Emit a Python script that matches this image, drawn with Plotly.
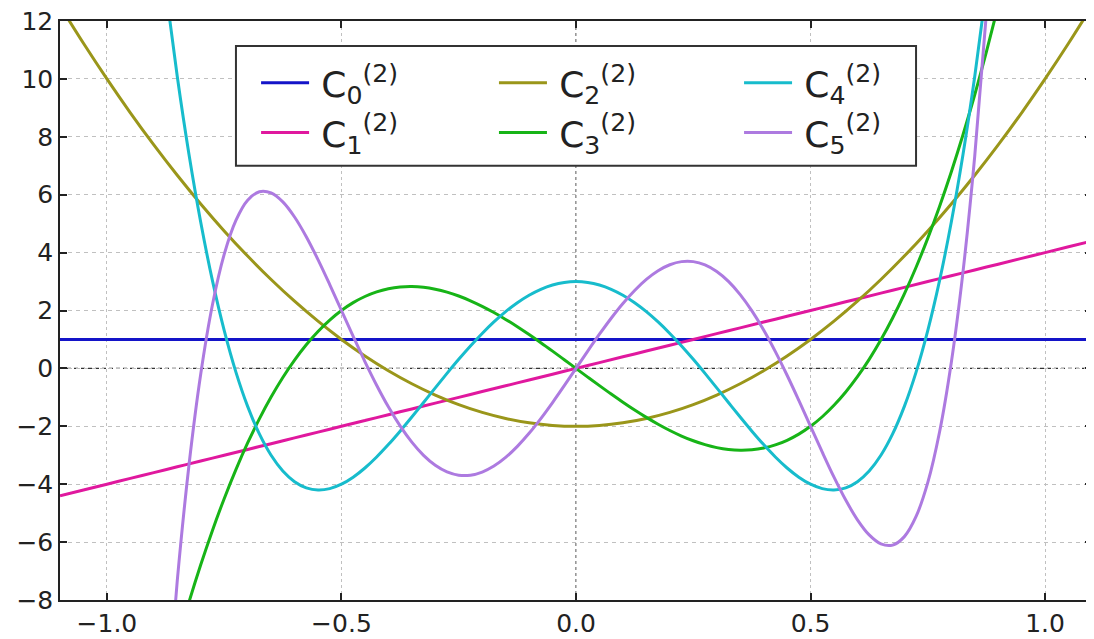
import plotly.graph_objects as go

# sample points
x = [-1.1, -1.05, -1.0, -0.95, -0.9, -0.85, -0.8, -0.75, -0.7, -0.65, -0.6, -0.55,
     -0.5, -0.45, -0.4, -0.35, -0.3, -0.25, -0.2, -0.15, -0.1, -0.05, 0.0,
     0.05, 0.1, 0.15, 0.2, 0.25, 0.3, 0.35, 0.4, 0.45, 0.5, 0.55, 0.6, 0.65,
     0.7, 0.75, 0.8, 0.85, 0.9, 0.95, 1.0, 1.05, 1.1]

c0 = [1.0] * 45
c1 = [-4.4, -4.2, -4.0, -3.8, -3.6, -3.4, -3.2, -3.0, -2.8, -2.6, -2.4, -2.2,
      -2.0, -1.8, -1.6, -1.4, -1.2, -1.0, -0.8, -0.6, -0.4, -0.2, 0.0,
      0.2, 0.4, 0.6, 0.8, 1.0, 1.2, 1.4, 1.6, 1.8, 2.0, 2.2, 2.4, 2.6,
      2.8, 3.0, 3.2, 3.4, 3.6, 3.8, 4.0, 4.2, 4.4]
c2 = [12.52, 11.23, 10.0, 8.83, 7.72, 6.67, 5.68, 4.75, 3.88, 3.07, 2.32, 1.63,
      1.0, 0.43, -0.08, -0.53, -0.92, -1.25, -1.52, -1.73, -1.88, -1.97, -2.0,
      -1.97, -1.88, -1.73, -1.52, -1.25, -0.92, -0.53, -0.08, 0.43, 1.0, 1.63, 2.32, 3.07,
      3.88, 4.75, 5.68, 6.67, 7.72, 8.83, 10.0, 11.23, 12.52]

# the wigglier curves need a finer sampling
x_fine = [-0.925, -0.9, -0.875, -0.85, -0.825, -0.8, -0.775, -0.75, -0.725, -0.7,
          -0.675, -0.65, -0.625, -0.6, -0.575, -0.55, -0.525, -0.5, -0.475, -0.45,
          -0.425, -0.4, -0.375, -0.35, -0.325, -0.3, -0.275, -0.25, -0.225, -0.2,
          -0.175, -0.15, -0.125, -0.1, -0.075, -0.05, -0.025, 0.0,
          0.025, 0.05, 0.075, 0.1, 0.125, 0.15, 0.175, 0.2, 0.225, 0.25,
          0.275, 0.3, 0.325, 0.35, 0.375, 0.4, 0.425, 0.45, 0.475, 0.5,
          0.525, 0.55, 0.575, 0.6, 0.625, 0.65, 0.675, 0.7, 0.725, 0.75,
          0.775, 0.8, 0.825, 0.85, 0.875, 0.9, 0.925]

c3 = [-14.227, -12.528, -10.938, -9.452, -8.069, -6.784, -5.596, -4.5, -3.495, -2.576,
      -1.742, -0.988, -0.313, 0.288, 0.817, 1.276, 1.670, 2.0, 2.271, 2.484,
      2.644, 2.752, 2.813, 2.828, 2.802, 2.736, 2.635, 2.5, 2.336, 2.144,
      1.929, 1.692, 1.438, 1.168, 0.887, 0.596, 0.30, 0.0,
      -0.30, -0.596, -0.887, -1.168, -1.438, -1.692, -1.929, -2.144, -2.336, -2.5,
      -2.635, -2.736, -2.802, -2.828, -2.813, -2.752, -2.644, -2.484, -2.271, -2.0,
      -1.670, -1.276, -0.817, -0.288, 0.313, 0.988, 1.742, 2.576, 3.495, 4.5,
      5.596, 6.784, 8.069, 9.452, 10.938, 12.528, 14.227]
c4 = [20.498, 16.608, 13.145, 10.081, 7.390, 5.048, 3.030, 1.313, -0.128, -1.312,
      -2.263, -3.000, -3.543, -3.912, -4.125, -4.200, -4.153, -4.0, -3.758, -3.440,
      -3.060, -2.632, -2.168, -1.680, -1.178, -0.672, -0.173, 0.313, 0.775, 1.208,
      1.605, 1.961, 2.270, 2.528, 2.733, 2.881, 2.970, 3.0,
      2.970, 2.881, 2.733, 2.528, 2.270, 1.961, 1.605, 1.208, 0.775, 0.313,
      -0.173, -0.672, -1.178, -1.680, -2.168, -2.632, -3.060, -3.440, -3.758, -4.0,
      -4.153, -4.200, -4.125, -3.912, -3.543, -3.000, -2.263, -1.312, -0.128, 1.313,
      3.030, 5.048, 7.390, 10.081, 13.145, 16.608, 20.498]
c5 = [-25.587, -18.334, -12.291, -7.331, -3.336, -0.195, 2.198, 3.938, 5.114, 5.811,
      6.103, 6.062, 5.752, 5.230, 4.549, 3.757, 2.895, 2.0, 1.105, 0.237,
      -0.580, -1.326, -1.986, -2.548, -3.004, -3.347, -3.575, -3.688, -3.688, -3.581,
      -3.374, -3.075, -2.693, -2.242, -1.733, -1.180, -0.598, 0.0,
      0.598, 1.180, 1.733, 2.242, 2.693, 3.075, 3.374, 3.581, 3.688, 3.688,
      3.575, 3.347, 3.004, 2.548, 1.986, 1.326, 0.580, -0.237, -1.105, -2.0,
      -2.895, -3.757, -4.549, -5.230, -5.752, -6.062, -6.103, -5.811, -5.114, -3.938,
      -2.198, 0.195, 3.336, 7.331, 12.291, 18.334, 25.587]

series = [(x, c0), (x, c1), (x, c2), (x_fine, c3), (x_fine, c4), (x_fine, c5)]
colors = ['#1414c8', '#e0189e', '#9a961a', '#17b417', '#17bccc', '#ad7ae0']
# three legend columns of two entries: (0,1) (2,3) (4,5)
legend_ids = ['legend', 'legend', 'legend2', 'legend2', 'legend3', 'legend3']

fig = go.Figure()
for n, (xs, ys) in enumerate(series):
    fig.add_trace(go.Scatter(
        x=xs, y=ys, mode='lines', name=f'\u2009C<sub>{n}</sub><sup>(2)</sup>',
        line=dict(color=colors[n], width=3, shape='spline'),
        legend=legend_ids[n],
    ))

fig.add_hline(y=0, line=dict(color='#333333', width=1.2, dash='4px,3px'), layer='below')
fig.add_vline(x=0, line=dict(color='#777777', width=1.5, dash='dot'), layer='below')

# frame around the three legend columns
fig.add_shape(type='rect', xref='paper', yref='paper', x0=0.1705, x1=0.8295, y0=0.75, y1=0.957,
              line=dict(color='#333333', width=2), fillcolor='white', layer='above')

axis_font = dict(family='DejaVu Sans', size=25, color='#222222')
fig.update_xaxes(
    range=[-1.1, 1.1], tickvals=[-1.0, -0.5, 0.0, 0.5, 1.0], tickformat='.1f',
    ticks='inside', ticklen=7, tickwidth=1.5, tickcolor='#222222', mirror='allticks',
    showline=True, linecolor='#222222', linewidth=1.5,
    showgrid=True, gridcolor='#c0c0c0', gridwidth=1.2, griddash='dot',
    zeroline=False, tickfont=axis_font, automargin=False, ticklabeloverflow='allow',
)
fig.update_yaxes(
    range=[-8, 12], dtick=2,
    ticks='inside', ticklen=7, tickwidth=1.5, tickcolor='#222222', mirror='allticks',
    showline=True, linecolor='#222222', linewidth=1.5,
    showgrid=True, gridcolor='#c0c0c0', gridwidth=1.2, griddash='4px,4px',
    zeroline=False, tickfont=axis_font, automargin=False, ticklabeloverflow='allow',
)

legend_font = dict(family='DejaVu Sans', size=36, color='#222222')
legend_common = dict(y=0.945, yanchor='top', xanchor='left', bgcolor='rgba(0,0,0,0)',
                     borderwidth=0, font=legend_font, itemwidth=48)
# the page puts the plot 8px in from the top-left corner, margins make up for it
fig.update_layout(
    width=1094, height=639,
    margin=dict(l=52, r=10, t=13, b=47),
    plot_bgcolor='white', paper_bgcolor='white',
    font=dict(family='DejaVu Sans'),
    legend=dict(x=0.19, **legend_common),
    legend2=dict(x=0.4205, **legend_common),
    legend3=dict(x=0.658, **legend_common),
)

fig.write_html("out.html")
